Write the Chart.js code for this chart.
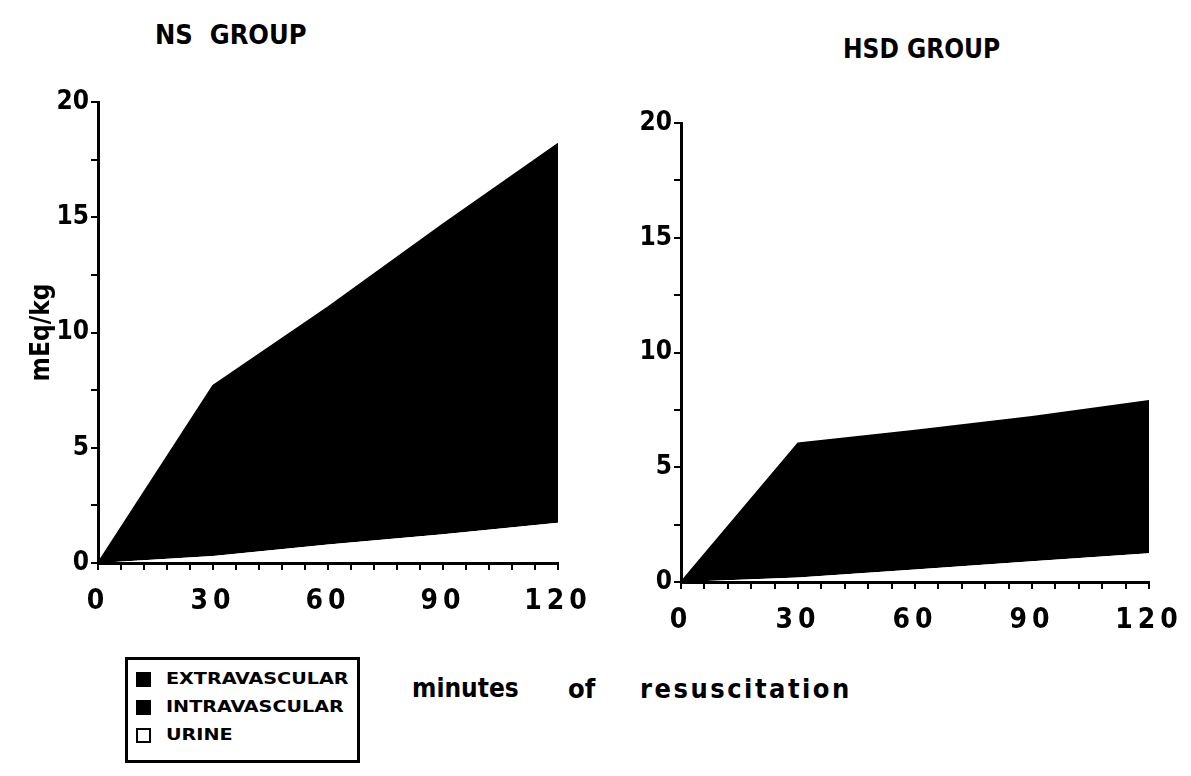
<!DOCTYPE html>
<html>
<head>
<meta charset="utf-8">
<script src="https://cdn.jsdelivr.net/npm/chart.js@4.4.1/dist/chart.umd.min.js"></script>
<style>
  html, body { margin: 0; padding: 0; background: #fff; }
  body { width: 1191px; height: 776px; position: relative; overflow: hidden;
         font-family: 'DejaVu Sans Condensed', 'DejaVu Sans', Arial, sans-serif; font-weight: bold; color: #000; }
  .panel { position: absolute; }
  .title { position: absolute; font-size: 27px; white-space: pre; }
  .xword { position: absolute; font-size: 27px; top: 673px; }
  #legend { position: absolute; left: 125px; top: 657px; width: 235px; height: 106px;
            border: 3px solid #000; box-sizing: border-box; padding: 5px 0 0 8px; }
  .lg-row { height: 28px; display: flex; align-items: center; }
  .lg-box { width: 15px; height: 15px; box-sizing: border-box; border: 2px solid #000; margin-right: 15px; flex: none; }
  .lg-text { font-size: 15px; transform: scaleX(1.42); transform-origin: left center; white-space: nowrap; }
</style>
</head>
<body>

<div class="title" style="left:155px; top:19px;">NS  GROUP</div>
<div class="title" style="left:843px; top:34px; font-size:26px;">HSD GROUP</div>

<div class="panel" style="left:0; top:0; width:600px; height:640px;"><canvas id="nsChart"></canvas></div>
<div class="panel" style="left:600px; top:0; width:591px; height:660px;"><canvas id="hsdChart"></canvas></div>

<div class="xword" style="left:412px; font-size:26px;">minutes</div>
<div class="xword" style="left:568px;">of</div>
<div class="xword" style="left:640px; letter-spacing:2.5px;">resuscitation</div>

<div id="legend"></div>

<script>
// ---- data (mEq/kg) ----
const minutes = [0, 30, 60, 90, 120];

const nsUrine         = [0, 0.3, 0.8, 1.25, 1.75];
const nsIntravascular = [0, 3.0, 3.3, 3.5, 3.6];
const nsExtravascular = [0, 4.4, 7.0, 9.95, 12.85];

const hsdUrine         = [0, 0.2, 0.55, 0.9, 1.25];
const hsdIntravascular = [0, 2.6, 2.7, 2.8, 2.9];
const hsdExtravascular = [0, 3.25, 3.35, 3.5, 3.75];

const xLabels = [0, 30, 60, 90, 120];
const yLabels = [0, 5, 10, 15, 20];

const legendLabels = ['EXTRAVASCULAR', 'INTRAVASCULAR', 'URINE'];
const legendFills  = ['#000', '#000', '#fff'];

const FONT = "'DejaVu Sans Condensed', 'DejaVu Sans', Arial, sans-serif";

// legend box under the NS panel
const legendEl = document.getElementById('legend');
legendLabels.forEach((txt, i) => {
  const row = document.createElement('div');
  row.className = 'lg-row';
  row.innerHTML = '<div class="lg-box" style="background:' + legendFills[i] + '"></div>' +
                  '<div class="lg-text">' + txt + '</div>';
  legendEl.appendChild(row);
});

// spaced-out x tick digits, like the original
const spacedTicks = {
  id: 'spacedTicks',
  afterDatasetsDraw(chart) { chart.ctx.letterSpacing = '5px'; },
  afterDraw(chart) { chart.ctx.letterSpacing = '0px'; },
};

const pts = (arr) => arr.map((v, i) => ({ x: minutes[i], y: v }));

function makeChart(canvasId, series, opts) {
  const area = (label, data, fill, color, bw) => ({
    label, data: pts(data), fill,
    backgroundColor: color, borderColor: color, borderWidth: bw,
    pointRadius: 0, tension: 0,
  });

  return new Chart(document.getElementById(canvasId), {
    type: 'line',
    data: {
      datasets: [
        area('URINE', series.urine, 'origin', '#fff', 0),
        area('INTRAVASCULAR', series.intra, '-1', '#000', 1.5),
        area('EXTRAVASCULAR', series.extra, '-1', '#000', 1.5),
      ],
    },
    plugins: [spacedTicks],
    options: {
      responsive: true,
      maintainAspectRatio: false,
      animation: false,
      events: [],
      layout: { padding: { left: 0, top: opts.top, right: 42, bottom: 0 } },
      plugins: { legend: { display: false }, tooltip: { enabled: false }, title: { display: false } },
      scales: {
        x: {
          type: 'linear', min: 0, max: 120,
          afterFit: (s) => { s.height = opts.xHeight; },
          afterBuildTicks: (s) => {
            const t = [];
            for (let v = 0; v <= 120; v += 6) t.push({ value: v });
            s.ticks = t;
          },
          ticks: {
            z: 1, autoSkip: false, maxRotation: 0, padding: 15, color: '#000',
            font: { family: FONT, size: 28, weight: 'bold' },
            callback: (v) => xLabels.includes(v) ? String(v) : '',
          },
          grid: { drawOnChartArea: false, drawTicks: true, tickLength: 7, color: '#000', lineWidth: 2 },
          border: { display: true, color: '#000', width: 3, z: 1 },
        },
        y: {
          stacked: true, min: 0, max: 20,
          afterFit: (s) => { s.width = opts.yWidth; },
          afterBuildTicks: (s) => {
            const t = [];
            for (let v = 0; v <= 20; v += 2.5) t.push({ value: v });
            s.ticks = t;
          },
          ticks: {
            autoSkip: false, padding: 2, color: '#000',
            font: { family: FONT, size: 26, weight: 'bold' },
            callback: (v) => yLabels.includes(v) ? String(v) : '',
          },
          grid: { drawOnChartArea: false, drawTicks: true, tickLength: 7, color: '#000', lineWidth: 2 },
          border: { display: true, color: '#000', width: 3, z: 1 },
          title: {
            display: opts.yTitle, text: 'mEq/kg', color: '#000',
            font: { family: FONT, size: 26, weight: 'bold' },
            padding: { top: 27, bottom: 0 },
          },
        },
      },
    },
  });
}

makeChart('nsChart',
  { urine: nsUrine, intra: nsIntravascular, extra: nsExtravascular },
  { top: 102, xHeight: 77, yWidth: 98, yTitle: true });

makeChart('hsdChart',
  { urine: hsdUrine, intra: hsdIntravascular, extra: hsdExtravascular },
  { top: 123, xHeight: 78, yWidth: 81, yTitle: false });
</script>
</body>
</html>
